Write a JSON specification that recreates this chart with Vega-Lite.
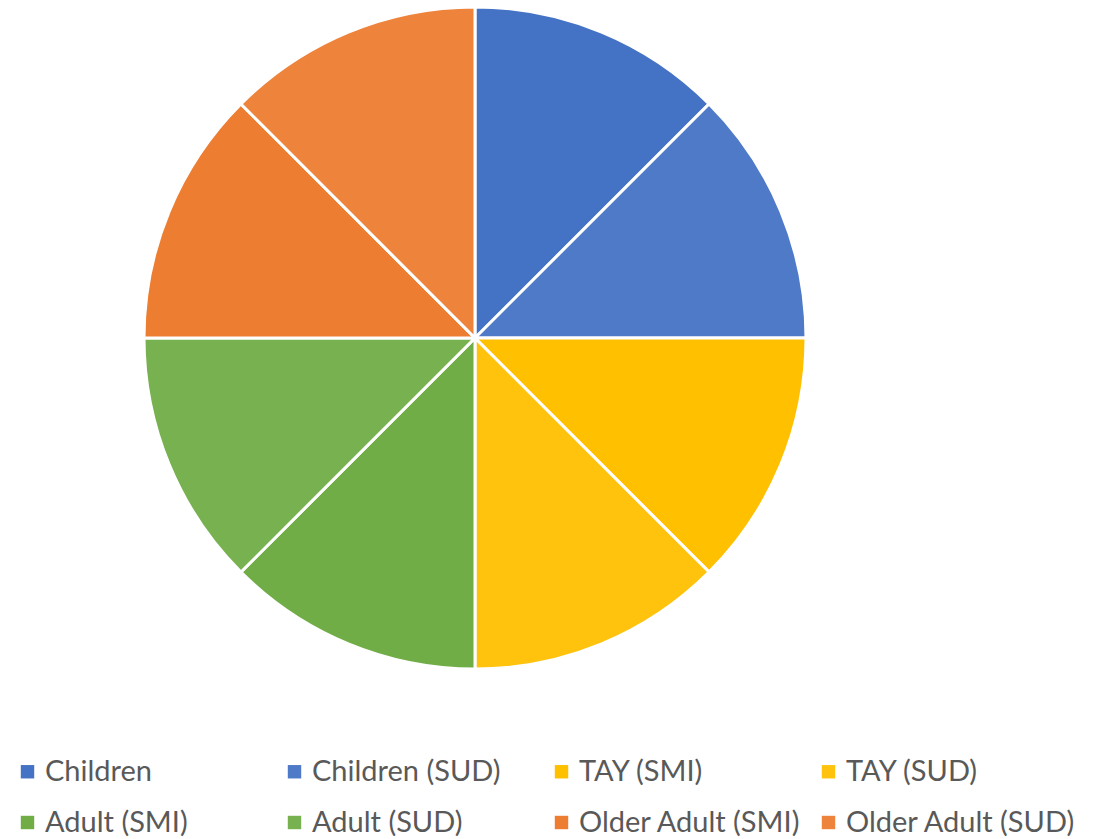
{
  "$schema": "https://vega.github.io/schema/vega-lite/v6.json",
  "width": 950,
  "height": 664,
  "padding": {"top": 1, "left": 0, "right": 0, "bottom": 0},
  "background": "white",
  "config": {"view": {"stroke": null}},
  "data": {"values": [
    {"group": "Children", "value": 1, "ord": 1},
    {"group": "Children (SUD)", "value": 1, "ord": 2},
    {"group": "TAY (SMI)", "value": 1, "ord": 3},
    {"group": "TAY (SUD)", "value": 1, "ord": 4},
    {"group": "Adult (SMI)", "value": 1, "ord": 5},
    {"group": "Adult (SUD)", "value": 1, "ord": 6},
    {"group": "Older Adult (SMI)", "value": 1, "ord": 7},
    {"group": "Older Adult (SUD)", "value": 1, "ord": 8}
  ]},
  "mark": {"type": "arc", "outerRadius": 331, "stroke": "white", "strokeWidth": 3},
  "encoding": {
    "theta": {"field": "value", "type": "quantitative", "stack": true},
    "order": {"field": "ord", "type": "quantitative"},
    "color": {
      "field": "group",
      "type": "nominal",
      "scale": {
        "domain": ["Children", "Children (SUD)", "TAY (SMI)", "TAY (SUD)", "Adult (SMI)", "Adult (SUD)", "Older Adult (SMI)", "Older Adult (SUD)"],
        "range": ["#4472C4", "#4F7AC8", "#FFC000", "#FFC30D", "#70AD47", "#77B150", "#ED7D31", "#EE833B"]
      },
      "legend": {
        "title": null,
        "orient": "none",
        "legendX": 13,
        "legendY": 751,
        "direction": "horizontal",
        "columns": 4,
        "gridAlign": "all",
        "columnPadding": 5,
        "rowPadding": 21,
        "symbolType": "square",
        "symbolSize": 180,
        "symbolStrokeWidth": 0,
        "labelFont": "Lato",
        "labelFontSize": 29,
        "labelColor": "#595959",
        "labelOffset": 3,
        "labelLimit": 400
      }
    }
  }
}
